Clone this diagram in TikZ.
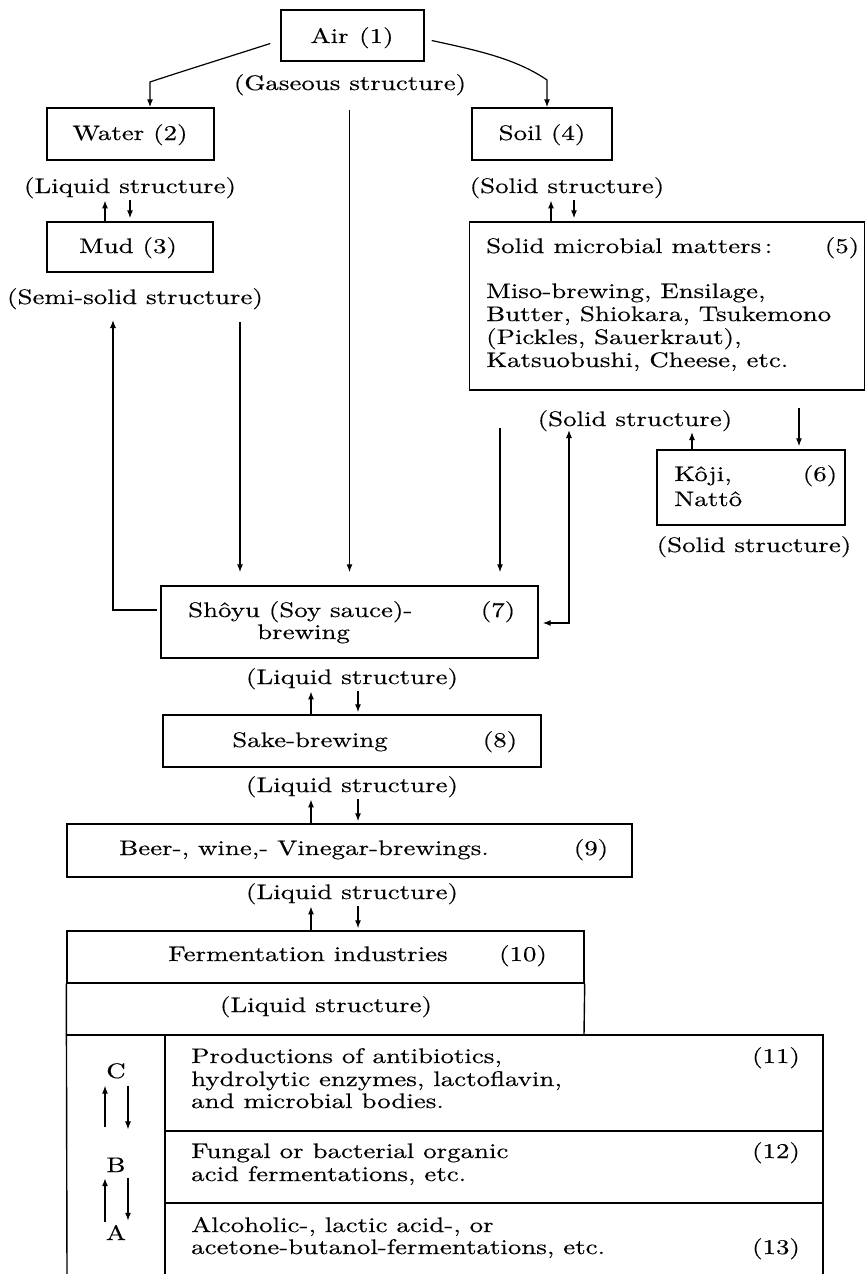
\documentclass[tikz,border=0pt]{standalone}
\usepackage{fontspec}
\setmainfont{lmroman10-regular.otf}[FakeStretch=1.28, FakeBold=0.4]
\usetikzlibrary{arrows.meta}

\tikzset{
  box/.style={draw, line width=1.4pt, inner sep=0pt},
  rule/.style={line width=1.4pt},
  txt/.style={anchor=base, inner sep=0pt},
  txtl/.style={anchor=base west, inner sep=0pt},
  capt/.style={anchor=base, inner sep=2pt},
  lett/.style={anchor=base, inner sep=3pt},
  arr/.style={line width=1.2pt, -{Latex[length=8pt,width=6pt]}},
  arrb/.style={line width=1.2pt, {Latex[length=8pt,width=6pt]}-{Latex[length=8pt,width=6pt]}},
}

\begin{document}
\begin{tikzpicture}[x=1pt, y=-1pt, font=\fontsize{21}{23}\selectfont]
    \useasboundingbox (0,0) rectangle (866,1274);
    % boxes
    \node[box, minimum width=143pt, minimum height=51pt] (air) at (352.5,35.5) {};
    \node[box, minimum width=167pt, minimum height=52pt] (water) at (130.5,134) {};
    \node[box, minimum width=140pt, minimum height=52pt] (soil) at (542,134) {};
    \node[box, minimum width=166pt, minimum height=50pt] (mud) at (130,247) {};
    \node[box, minimum width=395pt, minimum height=168pt] (micro) at (667,306) {};
    \node[box, minimum width=188pt, minimum height=75pt] (koji) at (751,487.5) {};
    \node[box, minimum width=377pt, minimum height=72pt] (shoyu) at (349.5,622) {};
    \node[box, minimum width=378pt, minimum height=52pt] (sake) at (352,741) {};
    \node[box, minimum width=565pt, minimum height=53pt] (beer) at (349.5,850.5) {};
    \node[box, minimum width=517pt, minimum height=52pt] (ferm) at (325.5,957) {};

    % texts
    \node[txt] (airt) at (352,43) {Air\enspace(1)};
    \node[capt] (gas) at (350,90) {(Gaseous structure)};
    \node[txt] (watert) at (130,140) {Water (2)};
    \node[txt] (soilt) at (542,140) {Soil (4)};
    \node[capt] (liqw) at (130,193) {(Liquid structure)};
    \node[capt] (sols) at (567,193) {(Solid structure)};
    \node[txt] (mudt) at (128,253) {Mud (3)};
    \node[capt] (semi) at (135,304) {(Semi-solid structure)};
    \node[txtl] (m0) at (486,253) {Solid microbial matters\,:};
    \node[txt] (m0n) at (842,253) {(5)};
    \node[txtl] (m1) at (486,298) {Miso-brewing, Ensilage,};
    \node[txtl] (m2) at (486,321) {Butter, Shiokara, Tsukemono};
    \node[txtl] (m3) at (486,344) {(Pickles, Sauerkraut),};
    \node[txtl] (m4) at (486,367) {Katsuobushi, Cheese, etc.};
    \node[capt] (solm) at (635,426) {(Solid structure)};
    \node[txtl] (k1) at (674,481) {Kôji,};
    \node[txt] (k0n) at (820,481) {(6)};
    \node[txtl] (k2) at (674,506) {Nattô};
    \node[capt] (solk) at (754,552) {(Solid structure)};
    \node[txtl] (s1) at (188,617) {Shôyu (Soy sauce)-};
    \node[txt] (s0n) at (498,617) {(7)};
    \node[txtl] (s2) at (257,639) {brewing};
    \node[capt] (liq7) at (352,684) {(Liquid structure)};
    \node[txt] (saket) at (310,747) {Sake-brewing};
    \node[txt] (saken) at (500,747) {(8)};
    \node[capt] (liq8) at (352,792) {(Liquid structure)};
    \node[txt] (beert) at (304,855) {Beer-, wine,- Vinegar-brewings.};
    \node[txt] (beern) at (591,855) {(9)};
    \node[capt] (liq9) at (352,899) {(Liquid structure)};
    \node[txt] (fermt) at (308,961) {Fermentation industries};
    \node[txt] (fermn) at (523,961) {(10)};
    \node[txt] (liq10) at (326,1012) {(Liquid structure)};

    % table under fermentation industries
    \draw[rule] (ferm.south west) -- (67,1274);
    \draw[rule] (ferm.south east) -- (584,1035);
    \draw[rule] (67,1035) -- (823,1035) -- (823,1274);
    \draw[rule] (165,1035) -- (165,1274);
    \draw[rule] (165,1131) -- (823,1131);
    \draw[rule] (165,1203) -- (823,1203);
    \node[txtl] (p1) at (191,1063) {Productions of antibiotics,};
    \node[txtl] (p2) at (191,1086) {hydrolytic enzymes, lactoflavin,};
    \node[txtl] (p3) at (191,1108) {and microbial bodies.};
    \node[txt] (pn) at (776,1063) {(11)};
    \node[txtl] (f1) at (191,1158) {Fungal or bacterial organic};
    \node[txtl] (f2) at (191,1181) {acid fermentations, etc.};
    \node[txt] (fn) at (776,1158) {(12)};
    \node[txtl] (a1) at (191,1232) {Alcoholic-, lactic acid-, or};
    \node[txtl] (a2) at (191,1254) {acetone-butanol-fermentations, etc.};
    \node[txt] (an) at (776,1254) {(13)};
    \node[lett] (C) at (116,1078) {C};
    \node[lett] (B) at (116,1172) {B};
    \node[lett] (A) at (116,1240) {A};
    \draw[arr, shorten <=27pt, shorten >=4pt] ([xshift=-11pt]B.north) -- ([xshift=-11pt]C.south);
    \draw[arr, shorten <=4pt, shorten >=25pt] ([xshift=12pt]C.south) -- ([xshift=12pt]B.north);
    \draw[arr, shorten >=3pt] ([xshift=-11pt]A.north) -- ([xshift=-11pt]B.south);
    \draw[arr, shorten <=3pt, shorten >=1pt] ([xshift=12pt]B.south) -- ([xshift=12pt]A.north);

    % air to water and soil
    \coordinate (wk) at (150,82);
    \coordinate (sk) at (547,80);
    \draw[arr] ([xshift=-10pt,yshift=-8pt]air.west) .. controls (225,58) and (180,72) .. (wk) -- (wk |- water.north);
    \draw[arr] ([xshift=7pt,yshift=-5pt]air.east) .. controls (475,50) and (515,58) .. (sk) -- (sk |- soil.north);

    % caption to box arrows
    \draw[arr] ([xshift=-25pt]mud.north) -- ([xshift=-25pt]liqw.south);
    \draw[arr, shorten >=3pt] (liqw.south) -- (mud.north);
    \draw[arr] ([xshift=-116pt]micro.north) -- ([xshift=-16pt]sols.south);
    \draw[arr, shorten >=3pt] ([xshift=7pt]sols.south) -- ([xshift=-93pt]micro.north);
    \draw[arr] ([xshift=-41pt]sake.north) -- ([xshift=-41pt]liq7.south);
    \draw[arr, shorten >=2pt] ([xshift=6pt]liq7.south) -- ([xshift=6pt]sake.north);
    \draw[arr] ([xshift=-38.5pt]beer.north) -- ([xshift=-41pt]liq8.south);
    \draw[arr, shorten >=2pt] ([xshift=6pt]liq8.south) -- ([xshift=8.5pt]beer.north);
    \draw[arr] ([xshift=-14.5pt]ferm.north) -- ([xshift=-41pt]liq9.south);
    \draw[arr, shorten >=2pt] ([xshift=6pt]liq9.south) -- ([xshift=32.5pt]ferm.north);

    % flows into shoyu
    \draw[arr, shorten <=13pt, shorten >=13pt] (gas.south -| shoyu.north) -- (shoyu.north);
    \coordinate (mudout) at (240,322);
    \draw[arr, shorten >=13pt] (mudout) -- (mudout |- shoyu.north);
    \coordinate (mudin) at (113,320);
    \draw[arr] ([xshift=-3pt,yshift=12pt]shoyu.west) -| (mudin);
    \coordinate (solout) at (500,428);
    \draw[arr, shorten >=13pt] (solout) -- (solout |- shoyu.north);
    \coordinate (solin) at (569,430);
    \draw[arrb, shorten >=4pt] (solin) |- ([yshift=-1pt]shoyu.east);

    % koji
    \coordinate (kup) at (692,432);
    \draw[arr] (kup |- koji.north) -- (kup);
    \coordinate (kdn) at (799,408);
    \draw[arr, shorten >=3pt] (kdn) -- (kdn |- koji.north);
\end{tikzpicture}
\end{document}
